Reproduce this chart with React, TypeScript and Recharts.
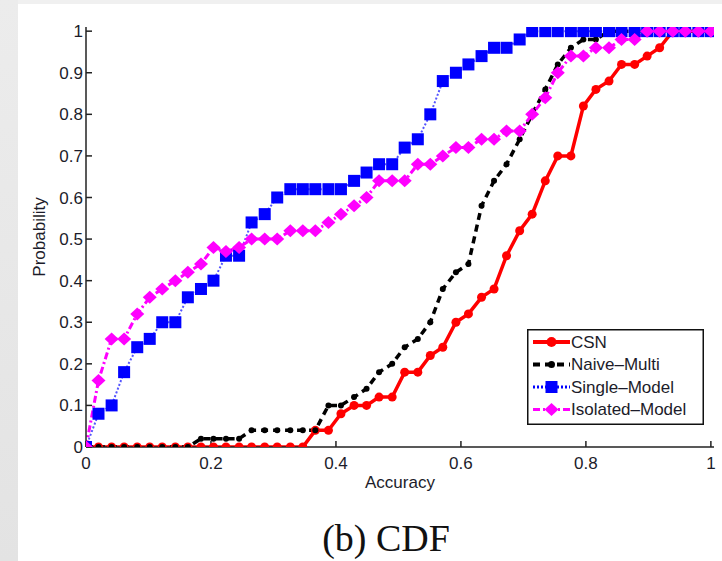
import { LineChart, Line, XAxis, YAxis, Legend } from "recharts";

// accuracy sample points (50 samples, 0..1)
const accuracy = [
  0, 0.02, 0.041, 0.061, 0.082, 0.102, 0.122, 0.143, 0.163, 0.184,
  0.204, 0.224, 0.245, 0.265, 0.286, 0.306, 0.327, 0.347, 0.367, 0.388,
  0.408, 0.429, 0.449, 0.469, 0.49, 0.51, 0.531, 0.551, 0.571, 0.592,
  0.612, 0.633, 0.653, 0.673, 0.694, 0.714, 0.735, 0.755, 0.776, 0.796,
  0.816, 0.837, 0.857, 0.878, 0.898, 0.918, 0.939, 0.959, 0.98, 1,
];

const csn = [
  0, 0, 0, 0, 0, 0, 0, 0, 0, 0,
  0, 0, 0, 0, 0, 0, 0, 0, 0.04, 0.04,
  0.08, 0.1, 0.1, 0.12, 0.12, 0.18, 0.18, 0.22, 0.24, 0.3,
  0.32, 0.36, 0.38, 0.46, 0.52, 0.56, 0.64, 0.7, 0.7, 0.82,
  0.86, 0.88, 0.92, 0.92, 0.94, 0.96, 1, 1, 1, 1,
];

const naiveMulti = [
  0, 0, 0, 0, 0, 0, 0, 0, 0, 0.02,
  0.02, 0.02, 0.02, 0.04, 0.04, 0.04, 0.04, 0.04, 0.04, 0.1,
  0.1, 0.12, 0.14, 0.18, 0.2, 0.24, 0.26, 0.3, 0.38, 0.42,
  0.44, 0.58, 0.64, 0.68, 0.74, 0.8, 0.86, 0.92, 0.96, 0.98,
  0.98, 1, 1, 1, 1, 1, 1, 1, 1, 1,
];

const singleModel = [
  0, 0.08, 0.1, 0.18, 0.24, 0.26, 0.3, 0.3, 0.36, 0.38,
  0.4, 0.46, 0.46, 0.54, 0.56, 0.6, 0.62, 0.62, 0.62, 0.62,
  0.62, 0.64, 0.66, 0.68, 0.68, 0.72, 0.74, 0.8, 0.88, 0.9,
  0.92, 0.94, 0.96, 0.96, 0.98, 1, 1, 1, 1, 1,
  1, 1, 1, 1, 1, 1, 1, 1, 1, 1,
];

const isolatedModel = [
  0, 0.16, 0.26, 0.26, 0.32, 0.36, 0.38, 0.4, 0.42, 0.44,
  0.48, 0.47, 0.48, 0.5, 0.5, 0.5, 0.52, 0.52, 0.52, 0.54,
  0.56, 0.58, 0.6, 0.64, 0.64, 0.64, 0.68, 0.68, 0.7, 0.72,
  0.72, 0.74, 0.74, 0.76, 0.76, 0.8, 0.84, 0.9, 0.94, 0.94,
  0.96, 0.96, 0.98, 0.98, 1, 1, 1, 1, 1, 1,
];

const xTicks = [0, 0.2, 0.4, 0.6, 0.8, 1];
const yTicks = [0, 0.1, 0.2, 0.3, 0.4, 0.5, 0.6, 0.7, 0.8, 0.9, 1];

const data = accuracy.map((x, i) => ({
  x,
  csn: csn[i],
  naive: naiveMulti[i],
  single: singleModel[i],
  isolated: isolatedModel[i],
}));

const FONT = "'Liberation Sans', Arial, Helvetica, sans-serif";
const TEXT = "#1c1c2a";

const fmt = (v: number) => String(v);

const circleDot = (p: any) => (
  <circle key={p.index} cx={p.cx} cy={p.cy} r={4.5} fill="#ff0000" />
);
const smallDot = (p: any) => (
  <circle key={p.index} cx={p.cx} cy={p.cy} r={3} fill="#000" />
);
const squareDot = (p: any) => (
  <rect key={p.index} x={p.cx - 6} y={p.cy - 6} width={12} height={12} fill="#0000ff" />
);
const diamondDot = (p: any) => (
  <polygon
    key={p.index}
    points={`${p.cx - 7},${p.cy} ${p.cx},${p.cy - 6.5} ${p.cx + 7},${p.cy} ${p.cx},${p.cy + 6.5}`}
    fill="#ff00ff"
  />
);

function LegendBox() {
  const rows = [
    { name: "CSN", kind: "csn" },
    { name: "Naive–Multi", kind: "naive" },
    { name: "Single–Model", kind: "single" },
    { name: "Isolated–Model", kind: "isolated" },
  ];
  return (
    <svg width={177} height={96} style={{ display: "block" }}>
      <rect x={0.75} y={0.75} width={175.5} height={94.5} fill="#fff" stroke="#111" strokeWidth={1.5} />
      {rows.map((r, i) => {
        const y = 13 + i * 22.5;
        const cx = 24.5;
        let sample = null;
        if (r.kind === "csn") {
          sample = (
            <g>
              <line x1={6} x2={43} y1={y} y2={y} stroke="#ff0000" strokeWidth={4} />
              <circle cx={cx} cy={y} r={5} fill="#ff0000" />
            </g>
          );
        } else if (r.kind === "naive") {
          sample = (
            <g>
              <line x1={6} x2={43} y1={y} y2={y} stroke="#000" strokeWidth={4} strokeDasharray="7 5" />
              <circle cx={cx} cy={y} r={3.5} fill="#000" />
            </g>
          );
        } else if (r.kind === "single") {
          sample = (
            <g>
              <line x1={6} x2={43} y1={y} y2={y} stroke="#0000ff" strokeWidth={3} strokeDasharray="2 2" />
              <rect x={cx - 6} y={y - 6} width={12} height={12} fill="#0000ff" />
            </g>
          );
        } else {
          sample = (
            <g>
              <line x1={6} x2={43} y1={y} y2={y} stroke="#ff00ff" strokeWidth={3} strokeDasharray="7 3 2 3" />
              <polygon points={`${cx - 7},${y} ${cx},${y - 6.5} ${cx + 7},${y} ${cx},${y + 6.5}`} fill="#ff00ff" />
            </g>
          );
        }
        return (
          <g key={r.name}>
            {sample}
            <text x={44} y={y} dominantBaseline="central" fontSize={17} fontFamily={FONT} fill={TEXT}>
              {r.name}
            </text>
          </g>
        );
      })}
    </svg>
  );
}

export default function App() {
  return (
    <div style={{ position: "fixed", left: 0, top: 0, width: 722, height: 561, background: "#f0f0f0", overflow: "hidden" }}>
      <div style={{ position: "absolute", left: 0, top: 0, width: 18, height: 561, background: "linear-gradient(#ececec, #e3e3e3)" }} />
      <div style={{ position: "absolute", left: 18, top: 4, width: 704, height: 557, background: "#fff" }} />
      <div style={{ position: "absolute", left: 0, top: 0 }}>
        <LineChart
          width={722}
          height={561}
          data={data}
          margin={{ top: 27, right: 8, bottom: 73, left: 26 }}
        >
          <XAxis
            dataKey="x"
            type="number"
            domain={[0, 1.005]}
            ticks={xTicks}
            tickFormatter={fmt}
            allowDataOverflow
            height={41}
            tickSize={-6}
            tickMargin={16}
            stroke="#222"
            strokeWidth={1.5}
            tick={{ fill: TEXT, fontSize: 17, fontFamily: FONT }}
            label={{ value: "Accuracy", position: "insideBottom", offset: 0, fill: TEXT, fontSize: 17, fontFamily: FONT }}
          />
          <XAxis
            xAxisId="top"
            orientation="top"
            type="number"
            domain={[0, 1.005]}
            ticks={xTicks}
            allowDataOverflow
            height={0}
            tickSize={-6}
            tick={false}
            stroke="#222"
            strokeWidth={1.5}
          />
          <YAxis
            type="number"
            domain={[0, 1.01]}
            ticks={yTicks}
            tickFormatter={fmt}
            allowDataOverflow
            width={60}
            tickSize={-6}
            tickMargin={9}
            stroke="#222"
            strokeWidth={1.5}
            tick={{ fill: TEXT, fontSize: 17, fontFamily: FONT }}
            label={{
              value: "Probability",
              angle: -90,
              position: "insideLeft",
              offset: 13,
              fill: TEXT,
              fontSize: 17,
              fontFamily: FONT,
              style: { textAnchor: "middle" },
            }}
          />
          <YAxis
            yAxisId="right"
            orientation="right"
            type="number"
            domain={[0, 1.01]}
            ticks={yTicks}
            allowDataOverflow
            width={0}
            tickSize={-6}
            tick={false}
            stroke="#222"
            strokeWidth={1.5}
          />
          <Line
            dataKey="csn"
            name="CSN"
            stroke="#ff0000"
            strokeWidth={3.5}
            dot={circleDot}
            activeDot={false}
            isAnimationActive={false}
          />
          <Line
            dataKey="naive"
            name="Naive–Multi"
            stroke="#000"
            strokeWidth={3.5}
            strokeDasharray="7 5"
            dot={smallDot}
            activeDot={false}
            isAnimationActive={false}
          />
          <Line
            dataKey="single"
            name="Single–Model"
            stroke="#5555ff"
            strokeWidth={2}
            strokeDasharray="2 2"
            dot={squareDot}
            activeDot={false}
            isAnimationActive={false}
          />
          <Line
            dataKey="isolated"
            name="Isolated–Model"
            stroke="#ff00ff"
            strokeWidth={3}
            strokeDasharray="7 3 2 3"
            dot={diamondDot}
            activeDot={false}
            isAnimationActive={false}
          />
          <Legend
            layout="horizontal"
            verticalAlign="middle"
            align="center"
            content={() => <LegendBox />}
            wrapperStyle={{ left: 527, top: 329, width: 177, height: 96 }}
          />
        </LineChart>
      </div>
      <div
        style={{
          position: "absolute",
          left: 236,
          top: 519,
          width: 300,
          textAlign: "center",
          fontFamily: "'Liberation Serif', 'Times New Roman', serif",
          fontSize: 38,
          lineHeight: "38px",
          color: "#111",
        }}
      >
        (b) CDF
      </div>
    </div>
  );
}
